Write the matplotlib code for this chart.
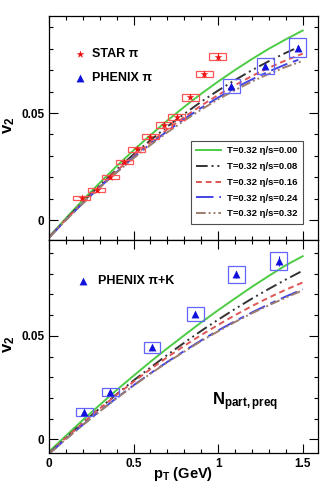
import numpy as np
import matplotlib
matplotlib.use('Agg')
import matplotlib.pyplot as plt
from matplotlib.patches import Rectangle
from matplotlib.ticker import MultipleLocator, FixedLocator

plt.rcParams['font.family'] = ['Liberation Sans', 'DejaVu Sans']
plt.rcParams['font.weight'] = 'bold'
plt.rcParams['mathtext.fontset'] = 'custom'
plt.rcParams['mathtext.rm'] = 'Liberation Sans:bold'
plt.rcParams['mathtext.bf'] = 'Liberation Sans:bold'
plt.rcParams['mathtext.it'] = 'Liberation Sans:bold'

# ---- model curves ----
pt_grid = [0.0, 0.1, 0.2, 0.3, 0.4, 0.5, 0.6, 0.7, 0.8, 0.9, 1.0, 1.1, 1.2, 1.3, 1.4, 1.5]
labels = ['T=0.32 η/s=0.00', 'T=0.32 η/s=0.08', 'T=0.32 η/s=0.16',
          'T=0.32 η/s=0.24', 'T=0.32 η/s=0.32']

# top panel (pions)
top_curves = [
    [-0.0078, 0.0009, 0.0094, 0.0174, 0.0252, 0.0326, 0.0397, 0.0465, 0.0529, 0.0590, 0.0647, 0.0701, 0.0752, 0.0800, 0.0844, 0.0885],
    [-0.0080, 0.0004, 0.0085, 0.0162, 0.0236, 0.0307, 0.0373, 0.0437, 0.0496, 0.0553, 0.0605, 0.0654, 0.0700, 0.0742, 0.0781, 0.0816],
    [-0.0080, 0.0003, 0.0083, 0.0158, 0.0230, 0.0299, 0.0363, 0.0424, 0.0481, 0.0535, 0.0584, 0.0630, 0.0673, 0.0711, 0.0746, 0.0777],
    [-0.0082, 0.0001, 0.0079, 0.0154, 0.0225, 0.0293, 0.0356, 0.0416, 0.0472, 0.0524, 0.0572, 0.0617, 0.0657, 0.0694, 0.0727, 0.0756],
    [-0.0082, 0.0000, 0.0078, 0.0152, 0.0222, 0.0289, 0.0351, 0.0410, 0.0465, 0.0516, 0.0564, 0.0607, 0.0647, 0.0683, 0.0715, 0.0743],
]
# bottom panel (pions + kaons)
bot_curves = [
    [-0.0060, 0.0017, 0.0093, 0.0166, 0.0238, 0.0307, 0.0375, 0.0440, 0.0503, 0.0565, 0.0624, 0.0681, 0.0737, 0.0790, 0.0841, 0.0885],
    [-0.0068, 0.0007, 0.0080, 0.0150, 0.0218, 0.0284, 0.0347, 0.0408, 0.0467, 0.0524, 0.0578, 0.0630, 0.0680, 0.0727, 0.0772, 0.0815],
    [-0.0068, 0.0007, 0.0079, 0.0148, 0.0215, 0.0278, 0.0339, 0.0397, 0.0452, 0.0504, 0.0553, 0.0600, 0.0644, 0.0685, 0.0723, 0.0758],
    [-0.0070, 0.0001, 0.0070, 0.0136, 0.0200, 0.0261, 0.0319, 0.0374, 0.0427, 0.0478, 0.0526, 0.0571, 0.0613, 0.0653, 0.0690, 0.0725],
    [-0.0071, 0.0000, 0.0069, 0.0135, 0.0198, 0.0259, 0.0317, 0.0372, 0.0424, 0.0475, 0.0522, 0.0567, 0.0609, 0.0648, 0.0685, 0.0720],
]

# ---- data ----
star_pt = [0.193, 0.282, 0.361, 0.444, 0.519, 0.598, 0.680, 0.755, 0.836, 0.919, 0.998]
star_v2 = [0.0104, 0.0140, 0.0202, 0.0272, 0.0330, 0.0389, 0.0444, 0.0483, 0.0573, 0.0682, 0.0763]
star_err = [0.0005, 0.0005, 0.0005, 0.0005, 0.0006, 0.0006, 0.0007, 0.0008, 0.0009, 0.0012, 0.0015]
star_sys = [0.0008, 0.0008, 0.0009, 0.0010, 0.0011, 0.0012, 0.0013, 0.0014, 0.0015, 0.0016, 0.0017]

phx_pi_pt = [1.077, 1.278, 1.471]
phx_pi_v2 = [0.0628, 0.0721, 0.0805]
phx_pi_err = [0.0008, 0.0010, 0.0012]
phx_pi_sys = [0.0033, 0.0037, 0.0043]

phx_pik_pt = [0.209, 0.361, 0.609, 0.864, 1.107, 1.357]
phx_pik_v2 = [0.0132, 0.0229, 0.0444, 0.0605, 0.0797, 0.0863]
phx_pik_err = [0.0005, 0.0006, 0.0008, 0.0010, 0.0016, 0.0024]
phx_pik_sys = [0.0019, 0.0019, 0.0026, 0.0032, 0.0040, 0.0043]

box_halfwidth = 0.05

colors = ['#4ccc44', '#333333', '#e05555', '#4444e6', '#9c7d6c']
styles = ['-', (0, (6, 2, 1, 2, 1, 2)), (0, (3, 2)), (0, (9, 3, 3, 3)), (0, (5, 1.5, 1, 1.5, 1, 1.5))]


def style_axes(ax, ylim, show_xlabels):
    ax.set_xlim(0, 1.59)
    ax.set_ylim(*ylim)
    ax.xaxis.set_major_locator(FixedLocator([0, 0.5, 1.0, 1.5]))
    ax.xaxis.set_minor_locator(MultipleLocator(0.1))
    ax.yaxis.set_major_locator(FixedLocator([0, 0.05]))
    ax.yaxis.set_minor_locator(MultipleLocator(0.01))
    ax.tick_params(which='both', direction='in', top=True, right=True, width=0.8)
    ax.tick_params(which='major', length=6.5, labelsize=8.5)
    ax.tick_params(which='minor', length=3.2)
    ax.set_yticklabels(['0', '0.05'])
    if show_xlabels:
        ax.set_xticklabels(['0', '0.5', '1', '1.5'])
    else:
        ax.set_xticklabels([])
    for s in ax.spines.values():
        s.set_linewidth(0.9)
    ax.set_ylabel(r'$\mathbf{v_2}$', fontsize=12)
    ax.yaxis.set_label_coords(-0.118, 0.51)


def draw_boxes(ax, xs, ys, sys, color):
    for x, y, s in zip(xs, ys, sys):
        ax.add_patch(Rectangle((x - box_halfwidth, y - s), 2 * box_halfwidth, 2 * s,
                               fill=False, edgecolor=color, linewidth=0.9, zorder=3))


fig = plt.figure(figsize=(3.32, 4.84), dpi=100)
ax1 = fig.add_axes([0.1476, 0.504, 0.810, 0.463])
ax2 = fig.add_axes([0.1476, 0.0634, 0.810, 0.4406])

# top panel
model_handles = []
for v, c, ls, lab in zip(top_curves, colors, styles, labels):
    h, = ax1.plot(pt_grid, v, color=c, linestyle=ls, linewidth=1.4, label=lab)
    model_handles.append(h)
draw_boxes(ax1, star_pt, star_v2, star_sys, '#ff5555')
draw_boxes(ax1, phx_pi_pt, phx_pi_v2, phx_pi_sys, '#6464ff')
ax1.errorbar(star_pt, star_v2, yerr=star_err, fmt='none', ecolor='#ee2222', elinewidth=0.8, zorder=4)
h_star = ax1.scatter(star_pt, star_v2, marker='*', s=34, color='#ee1111', zorder=5, linewidths=0)
ax1.errorbar(phx_pi_pt, phx_pi_v2, yerr=phx_pi_err, fmt='none', ecolor='#1111dd', elinewidth=0.8, zorder=4)
h_phx = ax1.scatter(phx_pi_pt, phx_pi_v2, marker='^', s=32, color='#1111dd', zorder=5, linewidths=0)

leg = ax1.legend(handles=model_handles, loc='lower left', bbox_to_anchor=(0.527, 0.071, 0.416, 0.368),
                 mode='expand', fontsize=6.8, frameon=True, fancybox=False, edgecolor='#222222',
                 handlelength=2.6, handletextpad=0.6, labelspacing=0.72, borderaxespad=0, borderpad=0.6)
leg.get_frame().set_linewidth(0.8)
ax1.add_artist(leg)
ax1.legend(handles=[h_star, h_phx], labels=['STAR π', 'PHENIX π'], loc='upper left',
           bbox_to_anchor=(0.07, 0.88), frameon=False, fontsize=9, handletextpad=0.3,
           labelspacing=1.0, borderaxespad=0, handlelength=1.2)
style_axes(ax1, (-0.0093, 0.0953), False)

# bottom panel
for v, c, ls in zip(bot_curves, colors, styles):
    ax2.plot(pt_grid, v, color=c, linestyle=ls, linewidth=1.4)
draw_boxes(ax2, phx_pik_pt, phx_pik_v2, phx_pik_sys, '#6464ff')
ax2.errorbar(phx_pik_pt, phx_pik_v2, yerr=phx_pik_err, fmt='none', ecolor='#1111dd', elinewidth=0.8, zorder=4)
h_pik = ax2.scatter(phx_pik_pt, phx_pik_v2, marker='^', s=32, color='#1111dd', zorder=5, linewidths=0)
ax2.legend(handles=[h_pik], labels=['PHENIX π+K'], loc='upper left',
           bbox_to_anchor=(0.08, 0.86), frameon=False, fontsize=9, handletextpad=0.6,
           borderaxespad=0, handlelength=1.2)
ax2.text(0.606, 0.24, r'$\mathbf{N_{part,preq}}$', transform=ax2.transAxes, fontsize=12,
         ha='left', va='center')
style_axes(ax2, (-0.0068, 0.0963), True)
ax2.set_xlabel(r'$\mathbf{p_T}$ (GeV)', fontsize=10.5, fontweight='bold')
ax2.xaxis.set_label_coords(0.5, -0.055)

fig.savefig('out.png', dpi=100)
